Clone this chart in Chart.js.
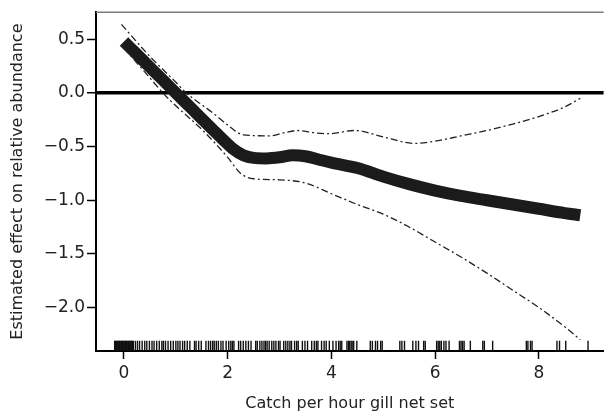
<!DOCTYPE html>
<html>
<head>
<meta charset="utf-8">
<title>Estimated effect on relative abundance</title>
<script src="https://cdn.jsdelivr.net/npm/chart.js@4/dist/chart.umd.min.js"></script>
<style>
    html, body { margin: 0; padding: 0; background: #fff; }
    #wrap { position: relative; width: 610px; height: 417px; }
</style>
</head>
<body>
<div id="wrap"><canvas id="gam-chart"></canvas></div>
<script>
    // Fitted smooth (thick line)
    const fitX = [0, 0.25, 0.5, 0.75, 1.0, 1.25, 1.5, 1.75, 1.9, 2.1, 2.3, 2.5, 2.75, 3.0, 3.25, 3.5, 3.75, 4.0, 4.5, 5.0, 5.5, 6.0, 6.5, 7.0, 7.5, 8.0, 8.5, 8.8];
    const fitY = [0.48, 0.36, 0.24, 0.12, 0.0, -0.12, -0.24, -0.36, -0.43, -0.52, -0.58, -0.605, -0.61, -0.60, -0.58, -0.59, -0.62, -0.65, -0.70, -0.78, -0.85, -0.91, -0.96, -1.00, -1.04, -1.08, -1.12, -1.14];

    // Upper confidence band
    const upperX = [-0.05, 0.5, 1.0, 1.2, 1.5, 1.75, 2.0, 2.3, 2.8, 3.1, 3.35, 3.65, 3.95, 4.45, 5.0, 5.6, 6.0, 6.5, 7.0, 7.5, 8.0, 8.5, 8.8];
    const upperY = [0.64, 0.34, 0.10, 0.0, -0.11, -0.20, -0.30, -0.39, -0.40, -0.37, -0.35, -0.37, -0.38, -0.35, -0.41, -0.47, -0.45, -0.40, -0.35, -0.29, -0.22, -0.13, -0.05];

    // Lower confidence band
    const lowerX = [0, 0.5, 0.75, 1.0, 1.5, 2.0, 2.25, 2.5, 3.0, 3.5, 4.0, 4.5, 5.0, 5.5, 6.0, 6.5, 7.0, 7.5, 8.0, 8.5, 8.8];
    const lowerY = [0.42, 0.14, 0.0, -0.12, -0.34, -0.60, -0.75, -0.80, -0.81, -0.84, -0.94, -1.04, -1.13, -1.25, -1.39, -1.53, -1.68, -1.84, -2.00, -2.18, -2.30];

    // Observed catch values (rug)
    const rugX = [
        -0.18, -0.165, -0.15, -0.135, -0.12, -0.105, -0.09, -0.075, -0.06, -0.045, -0.03, -0.015,
        0, 0.015, 0.03, 0.045, 0.06, 0.075, 0.09, 0.105, 0.12, 0.135, 0.15, 0.165, 0.18,
        0.22, 0.26, 0.30, 0.35, 0.40, 0.44, 0.49, 0.54, 0.58, 0.63, 0.68, 0.73, 0.76, 0.80,
        0.85, 0.90, 0.95, 1.00, 1.04, 1.08, 1.13, 1.17, 1.22, 1.27, 1.36, 1.39, 1.44, 1.49,
        1.58, 1.63, 1.67, 1.71, 1.74, 1.78, 1.82, 1.87, 1.91, 1.97, 2.02, 2.06, 2.09, 2.12,
        2.21, 2.25, 2.30, 2.35, 2.40, 2.45, 2.54, 2.57, 2.62, 2.66, 2.70, 2.73, 2.76, 2.80,
        2.85, 2.89, 2.93, 2.98, 3.01, 3.08, 3.12, 3.16, 3.20, 3.23, 3.29, 3.33, 3.36, 3.44,
        3.49, 3.54, 3.62, 3.67, 3.71, 3.74, 3.81, 3.86, 3.90,
        3.96, 4.03, 4.09, 4.14, 4.17, 4.20, 4.30, 4.33, 4.35, 4.38, 4.40, 4.43, 4.49,
        4.75, 4.79, 4.85, 4.89, 4.95, 4.98, 5.32, 5.36, 5.41, 5.57, 5.63, 5.68, 5.78, 5.81,
        6.03, 6.06, 6.09, 6.12, 6.17, 6.21, 6.27, 6.47, 6.50, 6.53, 6.56, 6.68,
        6.92, 6.95, 7.11, 7.76, 7.79, 7.84, 7.87, 8.35, 8.40, 8.52, 8.95
    ];
    const rugY = -2.358;

    const xTicks = [0, 2, 4, 6, 8];
    const yTicks = [-2.0, -1.5, -1.0, -0.5, 0.0, 0.5];

    const xRange = { min: -0.54, max: 9.25 };
    const yRange = { min: -2.406, max: 0.753 };

    function toPoints(xs, ys) {
        return xs.map((x, i) => ({ x: x, y: ys[i] }));
    }

    function formatY(v) {
        return (v < 0 ? '\u2212' : '') + Math.abs(v).toFixed(1);
    }

    // Grey top edge of the plotting box
    const topEdge = {
        id: 'topEdge',
        afterDraw(chart) {
            const a = chart.chartArea;
            const ctx = chart.ctx;
            ctx.save();
            ctx.strokeStyle = '#7a7a7a';
            ctx.lineWidth = 1.5;
            ctx.beginPath();
            ctx.moveTo(a.left, a.top);
            ctx.lineTo(a.right, a.top);
            ctx.stroke();
            ctx.restore();
        }
    };

    Chart.defaults.font.family = "'DejaVu Sans', sans-serif";
    Chart.defaults.color = '#222';

    const bandStyle = {
        showLine: true,
        borderColor: '#222',
        borderWidth: 1.3,
        borderDash: [7, 3, 2, 3],
        pointRadius: 0,
        cubicInterpolationMode: 'monotone',
        fill: false
    };

    new Chart(document.getElementById('gam-chart'), {
        type: 'scatter',
        data: {
            datasets: [
                Object.assign({ label: 'Upper', data: toPoints(upperX, upperY) }, bandStyle),
                Object.assign({ label: 'Lower', data: toPoints(lowerX, lowerY) }, bandStyle),
                {
                    label: 'Fit',
                    data: toPoints(fitX, fitY),
                    showLine: true,
                    borderColor: '#1b1b1b',
                    borderWidth: 12,
                    borderCapStyle: 'butt',
                    pointRadius: 0,
                    cubicInterpolationMode: 'monotone'
                },
                {
                    label: 'Rug',
                    data: rugX.map(x => ({ x: x, y: rugY })),
                    showLine: false,
                    pointStyle: 'line',
                    rotation: 90,
                    pointRadius: 5,
                    borderColor: '#111',
                    borderWidth: 1.4
                }
            ]
        },
        options: {
            responsive: true,
            maintainAspectRatio: false,
            animation: false,
            layout: { padding: { top: 10, right: 0, left: 0, bottom: 0 } },
            plugins: {
                legend: { display: false },
                tooltip: { enabled: false }
            },
            scales: {
                x: {
                    type: 'linear',
                    min: xRange.min,
                    max: xRange.max,
                    border: { color: '#000', width: 2 },
                    grid: {
                        drawOnChartArea: false,
                        tickLength: 8,
                        tickColor: '#000',
                        tickWidth: 1.5
                    },
                    ticks: {
                        font: { size: 17 },
                        color: '#222',
                        padding: 4,
                        callback: v => String(v)
                    },
                    title: {
                        display: true,
                        text: 'Catch per hour gill net set',
                        font: { size: 16 },
                        color: '#222',
                        padding: { top: 0, bottom: 4 }
                    },
                    afterBuildTicks: scale => {
                        scale.ticks = xTicks.map(v => ({ value: v }));
                    },
                    afterFit: scale => { scale.height = 66; }
                },
                y: {
                    min: yRange.min,
                    max: yRange.max,
                    border: { color: '#000', width: 2 },
                    grid: {
                        color: ctx => (ctx.tick && ctx.tick.value === 0 ? '#000' : 'rgba(0,0,0,0)'),
                        lineWidth: ctx => (ctx.tick && ctx.tick.value === 0 ? 3.5 : 1),
                        tickLength: 9,
                        tickColor: '#000',
                        tickWidth: 1.5
                    },
                    ticks: {
                        font: { size: 17 },
                        color: '#222',
                        padding: 2,
                        callback: v => formatY(v)
                    },
                    title: {
                        display: true,
                        text: 'Estimated effect on relative abundance',
                        font: { size: 16 },
                        color: '#222',
                        padding: { top: 8, bottom: 0 }
                    },
                    afterBuildTicks: scale => {
                        scale.ticks = yTicks.map(v => ({ value: v }));
                    },
                    afterFit: scale => { scale.width = 96; }
                }
            }
        },
        plugins: [topEdge]
    });
</script>
</body>
</html>
